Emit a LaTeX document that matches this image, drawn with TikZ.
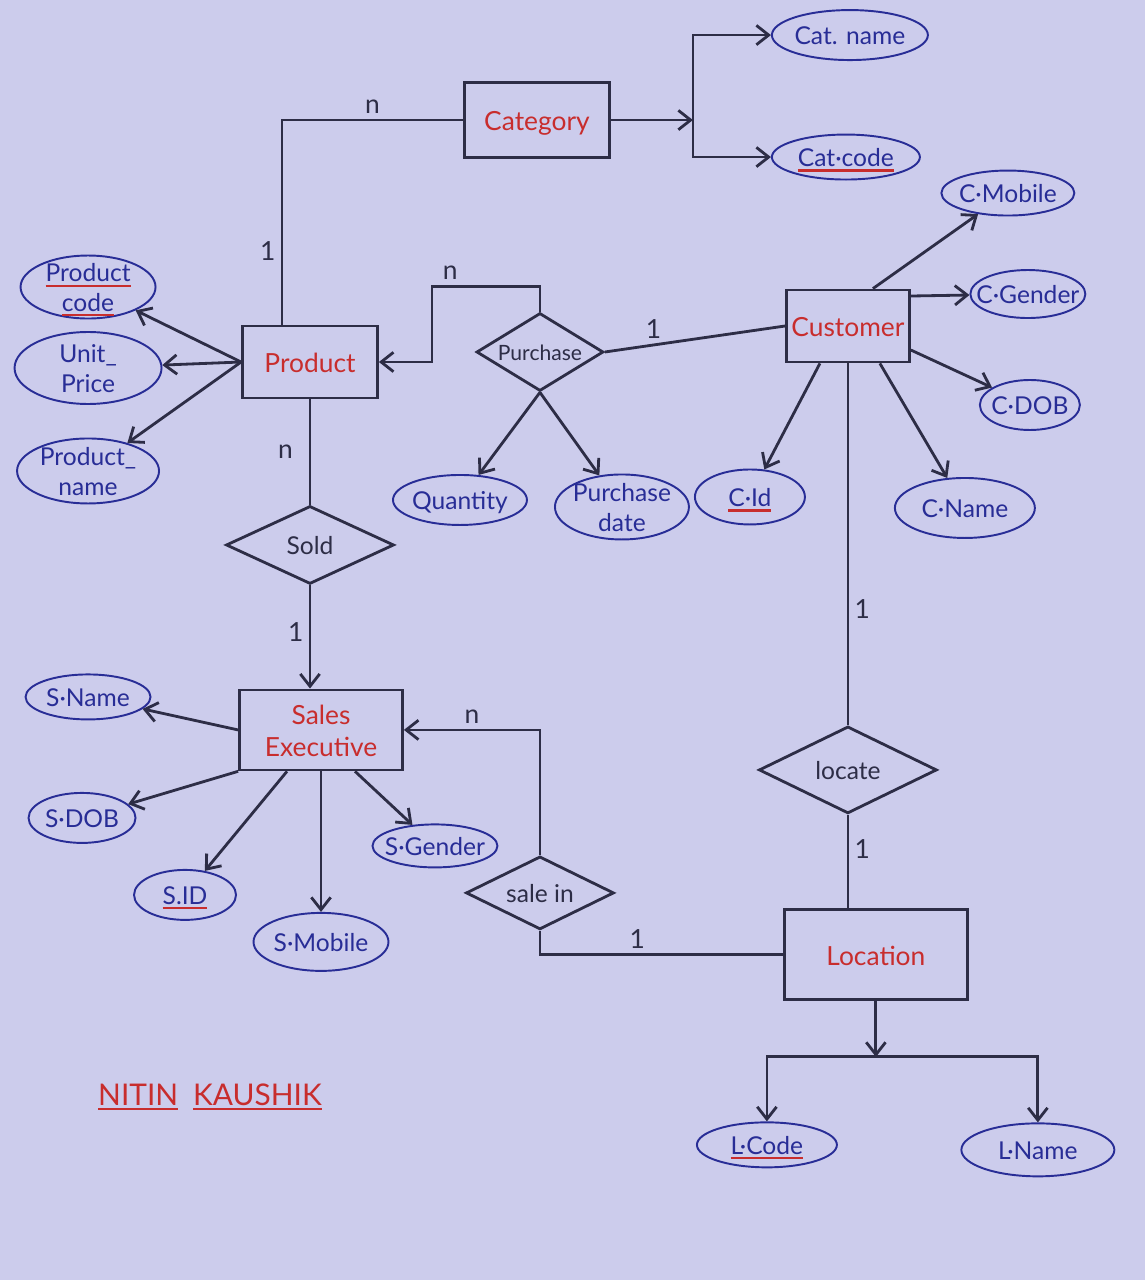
\documentclass[tikz,border=0pt]{standalone}
\usepackage{fontspec}
\setmainfont{Lato}
\usepackage{xcolor}
\usetikzlibrary{positioning, arrows.meta, shapes.geometric}

\definecolor{paper}{RGB}{204,204,236}
\definecolor{ink}{RGB}{45,45,70}
\definecolor{attrblue}{RGB}{40,45,150}
\definecolor{entred}{RGB}{200,45,45}

\newcommand{\celltext}[1]{\makebox[0pt]{\smash{\raisebox{-0.8ex}{\begin{tabular}{@{}c@{}}#1\end{tabular}}}}}
\newcommand{\redline}[1]{\leavevmode\vtop{\hbox{#1}\kern1.5pt{\color{entred}\hrule height 1.2pt}}}

\tikzset{
	entity/.style={rectangle, draw=ink, line width=1.6pt, text=entred, inner sep=0pt, font=\fontsize{15}{18}\selectfont},
	attr/.style={ellipse, draw=attrblue, line width=1.1pt, text=attrblue, inner sep=0pt, font=\fontsize{14}{17}\selectfont},
	rel/.style={diamond, draw=ink, line width=1.6pt, text=ink, inner sep=0pt, font=\fontsize{14}{17}\selectfont},
	card/.style={text=ink, inner sep=3pt, font=\fontsize{15}{18}\selectfont},
}

\begin{document}
\begin{tikzpicture}[x=0.02cm, y=-0.02cm, on grid, line width=1.6pt, color=ink, >={Straight Barb[length=7pt,width=11pt]}]
		\fill[paper] (0,0) rectangle (1145,1280);
		\useasboundingbox (0,0) rectangle (1145,1280);
		
		\node[entity, minimum width=2.7cm, minimum height=1.44cm] (product) at (310,362) {\celltext{Product}};
		\node[entity, minimum width=2.9cm, minimum height=1.5cm, above right=4.84cm and 4.54cm of product] (category) {\celltext{Category}};
		\node[attr, minimum width=3.12cm, minimum height=1cm, above right=1.7cm and 6.26cm of category] (catname) {\celltext{Cat. name}};
		\node[attr, minimum width=2.96cm, minimum height=0.9cm, below right=0.74cm and 6.18cm of category] (catcode) {\celltext{\redline{Cat·code}}};
		\node[attr, minimum width=2.7cm, minimum height=1.26cm, above left=1.5cm and 4.44cm of product] (prodcode) {\celltext{\redline{Product}\\\redline{code}}};
		\node[attr, minimum width=2.94cm, minimum height=1.44cm, below left=0.12cm and 4.44cm of product] (unitprice) {\celltext{Unit\_\\Price}};
		\node[attr, minimum width=2.84cm, minimum height=1.3cm, below left=2.18cm and 4.44cm of product] (prodname) {\celltext{Product\_\\name}};
		
		\node[rel, minimum width=2.54cm, minimum height=1.56cm, above right=0.2cm and 4.6cm of product, font=\fontsize{12}{14}\selectfont] (purchase) {\celltext{Purchase}};
		\node[attr, minimum width=2.68cm, minimum height=1cm, below left=2.96cm and 1.6cm of purchase] (quantity) {\celltext{Quantity}};
		\node[attr, minimum width=2.68cm, minimum height=1.3cm, below right=3.1cm and 1.64cm of purchase] (purchdate) {\celltext{Purchase\\date}};
		
		\node[entity, minimum width=2.46cm, minimum height=1.44cm, above right=0.52cm and 6.16cm of purchase] (customer) {\celltext{Customer}};
		\node[attr, minimum width=2.2cm, minimum height=1.1cm, below left=3.42cm and 1.96cm of customer] (cid) {\celltext{\redline{C·Id}}};
		\node[attr, minimum width=2.66cm, minimum height=0.9cm, above right=2.66cm and 3.2cm of customer] (cmobile) {\celltext{C·Mobile}};
		\node[attr, minimum width=2.3cm, minimum height=0.96cm, above right=0.64cm and 3.6cm of customer] (cgender) {\celltext{C·Gender}};
		\node[attr, minimum width=2cm, minimum height=1cm, below right=1.58cm and 3.64cm of customer] (cdob) {\celltext{C·DOB}};
		\node[attr, minimum width=2.8cm, minimum height=1.2cm, below right=3.64cm and 2.34cm of customer] (cname) {\celltext{C·Name}};
		
		\node[rel, minimum width=3.36cm, minimum height=1.56cm, below=3.66cm of product] (sold) {\celltext{Sold}};
		\node[entity, minimum width=3.26cm, minimum height=1.6cm, below right=3.7cm and 0.22cm of sold] (sales) {\celltext{Sales\\Executive}};
		\node[attr, minimum width=2.5cm, minimum height=0.9cm, above left=0.66cm and 4.66cm of sales] (sname) {\celltext{S·Name}};
		\node[attr, minimum width=2.14cm, minimum height=1cm, below left=1.76cm and 4.78cm of sales] (sdob) {\celltext{S·DOB}};
		\node[attr, minimum width=2.04cm, minimum height=1cm, below left=3.3cm and 2.72cm of sales] (sid) {\celltext{\redline{S.ID}}};
		\node[attr, minimum width=2.7cm, minimum height=1.16cm, below=4.24cm of sales] (smobile) {\celltext{S·Mobile}};
		\node[attr, minimum width=2.5cm, minimum height=0.86cm, below right=2.32cm and 2.28cm of sales] (sgender) {\celltext{S·Gender}};
		\node[rel, minimum width=2.96cm, minimum height=1.46cm, below right=3.26cm and 4.38cm of sales] (salein) {\celltext{sale in}};
		
		\node[rel, minimum width=3.56cm, minimum height=1.74cm, below=8.88cm of customer] (locate) {\celltext{locate}};
		\node[entity, minimum width=3.66cm, minimum height=1.8cm, below right=3.7cm and 0.56cm of locate] (location) {\celltext{Location}};
		\node[attr, minimum width=2.8cm, minimum height=0.9cm, below left=3.8cm and 2.18cm of location] (lcode) {\celltext{\redline{L·Code}}};
		\node[attr, minimum width=3.06cm, minimum height=1.06cm, below right=3.9cm and 3.24cm of location] (lname) {\celltext{L·Name}};
		
		\node[text=entred, font=\fontsize{17}{20}\selectfont] (author) at (210,1097) {\redline{NITIN}\enspace\redline{KAUSHIK}};
		
		\coordinate[right=3.12cm of category] (catfork);
		\coordinate[below=2.04cm of location] (locfork);
		
		
		\draw ([xshift=-0.56cm]product.north) |- node[card, left, pos=0.18] (c1) {1} node[card, above, pos=0.75] (c2) {n} (category.west);
		\draw[->] (category.east) -- (catfork);
		\draw[->] (catfork) |- (catname.west);
		\draw[->] (catfork) |- (catcode.west);
		
		\draw (product.west) edge[->] (prodcode);
		\draw (product.west) edge[->] (unitprice);
		\draw (product.west) edge[->] (prodname);
		
		\draw[->] (purchase.north) -- ++(0,-25) -- ++(-108,0) node[card, above, pos=0.83] (c3) {n} |- (product.east);
		\draw (purchase.east) edge[] node[card, above, pos=0.27] (c4) {1} (customer.west);
		\draw (purchase.south) edge[->] (quantity);
		\draw (purchase.south) edge[->] (purchdate);
		
		\draw ([xshift=0.5cm]customer.north) edge[->] (cmobile);
		\draw ([yshift=0.6cm]customer.east) edge[->] (cgender);
		\draw ([yshift=-0.48cm]customer.east) edge[->] (cdob);
		\draw ([xshift=0.64cm]customer.south) edge[->] (cname);
		\draw ([xshift=-0.56cm]customer.south) edge[->] (cid);
		\draw (customer.south) edge[] node[card, right, pos=0.68] (c5) {1} (locate.north);
		
		\draw (product.south) edge[] node[card, left=6pt, pos=0.5] (c6) {n} (sold.north);
		\draw[->] (sold.south) -- node[card, left, pos=0.45] (c7) {1} (sold.south |- sales.north);
		
		\draw (sales.west) edge[->] (sname);
		\draw (sales.south west) edge[->] (sdob);
		\draw ([xshift=-0.68cm]sales.south) edge[->] (sid);
		\draw (sales.south) edge[->] (smobile);
		\draw ([xshift=0.68cm]sales.south) edge[->] (sgender);
		
		\draw[->] (salein.north) |- node[card, above, pos=0.75] (c8) {n} (sales.east);
		\draw (salein.south) |- node[card, above, pos=0.7] (c9) {1} (location.west);
		\draw (locate.south) -- node[card, right, pos=0.36] (c10) {1} (locate.south |- location.north);
		
		\draw[->] (location.south) -- (locfork);
		\draw[->] (locfork) -| (lcode.north);
		\draw[->] (locfork) -| (lname.north);
		
	\end{tikzpicture}
\end{document}
